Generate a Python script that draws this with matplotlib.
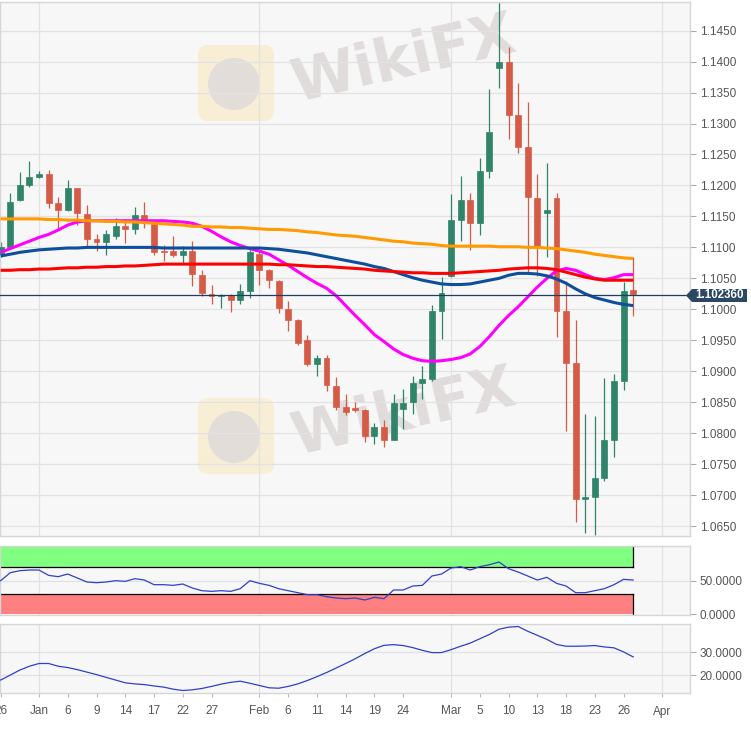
import matplotlib
matplotlib.use('Agg')
import matplotlib.pyplot as plt
from matplotlib.patches import Rectangle, Polygon, FancyBboxPatch, Ellipse

plt.rcParams['font.family'] = ['Liberation Sans', 'DejaVu Sans']

# trading days from Dec 26 2019 to Mar 27 2020 (index 0..66), daily OHLC
opens = [1.1090, 1.1101, 1.1177, 1.1201, 1.1214, 1.1219, 1.1171, 1.1161, 1.1196, 1.1154,
         1.1113, 1.1109, 1.1118, 1.1135, 1.1129, 1.1153, 1.1137, 1.1094, 1.1094, 1.1087,
         1.1094, 1.1056, 1.1024, 1.1021, 1.1023, 1.1015, 1.1029, 1.1090, 1.1063, 1.1046,
         1.1001, 1.0982, 1.0950, 1.0912, 1.0921, 1.0876, 1.0843, 1.0840, 1.0837, 1.0796,
         1.0810, 1.0789, 1.0839, 1.0850, 1.0881, 1.0888, 1.0997, 1.1054, 1.1144, 1.1176,
         1.1140, 1.1224, 1.1389, 1.1399, 1.1314, 1.1262, 1.1180, 1.1156, 1.1180, 1.0998,
         1.0913, 1.0693, 1.0697, 1.0728, 1.0789, 1.0884, 1.1031]
highs = [1.1108, 1.1188, 1.1221, 1.1240, 1.1223, 1.1225, 1.1182, 1.1208, 1.1196, 1.1168,
         1.1121, 1.1128, 1.1147, 1.1146, 1.1165, 1.1173, 1.1140, 1.1104, 1.1118, 1.1102,
         1.1110, 1.1063, 1.1040, 1.1024, 1.1024, 1.1041, 1.1096, 1.1096, 1.1065, 1.1048,
         1.1013, 1.0984, 1.0958, 1.0927, 1.0927, 1.0891, 1.0863, 1.0851, 1.0839, 1.0817,
         1.0821, 1.0864, 1.0872, 1.0892, 1.0909, 1.1007, 1.1052, 1.1186, 1.1215, 1.1187,
         1.1245, 1.1356, 1.1496, 1.1424, 1.1366, 1.1335, 1.1219, 1.1236, 1.1187, 1.1045,
         1.0983, 1.0831, 1.0828, 1.0889, 1.0895, 1.1044, 1.1084]
lows = [1.1085, 1.1098, 1.1175, 1.1198, 1.1212, 1.1163, 1.1128, 1.1159, 1.1136, 1.1101,
        1.1094, 1.1087, 1.1114, 1.1107, 1.1121, 1.1132, 1.1087, 1.1078, 1.1084, 1.1073,
        1.1038, 1.1022, 1.1009, 1.1002, 1.0995, 1.1008, 1.1019, 1.1039, 1.1034, 1.0994,
        1.0965, 1.0943, 1.0908, 1.0893, 1.0868, 1.0837, 1.0829, 1.0834, 1.0786, 1.0783,
        1.0778, 1.0789, 1.0806, 1.0831, 1.0856, 1.0885, 1.0952, 1.1052, 1.1110, 1.1095,
        1.1120, 1.1212, 1.1358, 1.1275, 1.1252, 1.1061, 1.1053, 1.1085, 1.0956, 1.0803,
        1.0656, 1.0639, 1.0636, 1.0722, 1.0761, 1.0870, 1.0990]
closes = [1.1101, 1.1174, 1.1201, 1.1214, 1.1219, 1.1172, 1.1161, 1.1196, 1.1156, 1.1114,
          1.1109, 1.1121, 1.1134, 1.1129, 1.1153, 1.1143, 1.1092, 1.1092, 1.1087, 1.1094,
          1.1057, 1.1026, 1.1022, 1.1023, 1.1015, 1.1029, 1.1092, 1.1063, 1.1047, 1.1002,
          1.0982, 1.0946, 1.0912, 1.0921, 1.0878, 1.0843, 1.0834, 1.0838, 1.0796, 1.0810,
          1.0789, 1.0848, 1.0849, 1.0881, 1.0888, 1.0997, 1.1027, 1.1144, 1.1176, 1.1140,
          1.1223, 1.1286, 1.1399, 1.1314, 1.1262, 1.1181, 1.1100, 1.1161, 1.0997, 1.0914,
          1.0693, 1.0697, 1.0728, 1.0789, 1.0884, 1.1029, 1.1024]

# moving averages
ma_orange = [1.1146, 1.1146, 1.1146, 1.1146, 1.1146, 1.1145, 1.1145, 1.1144, 1.1144, 1.1143,
             1.1143, 1.1142, 1.1142, 1.1141, 1.1141, 1.1140, 1.1139, 1.1138, 1.1137, 1.1136,
             1.1134, 1.1134, 1.1133, 1.1133, 1.1132, 1.1132, 1.1131, 1.1130, 1.1129, 1.1129,
             1.1128, 1.1127, 1.1125, 1.1124, 1.1122, 1.1120, 1.1119, 1.1118, 1.1116, 1.1114,
             1.1112, 1.1110, 1.1109, 1.1107, 1.1106, 1.1105, 1.1103, 1.1102, 1.1102, 1.1102,
             1.1102, 1.1102, 1.1101, 1.1101, 1.1101, 1.1100, 1.1100, 1.1099, 1.1098, 1.1096,
             1.1094, 1.1092, 1.1089, 1.1087, 1.1085, 1.1083, 1.1082]
ma_blue = [1.1086, 1.1089, 1.1092, 1.1094, 1.1096, 1.1097, 1.1098, 1.1099, 1.1099, 1.1100,
           1.1100, 1.1100, 1.1100, 1.1100, 1.1100, 1.1100, 1.1100, 1.1099, 1.1099, 1.1099,
           1.1099, 1.1099, 1.1099, 1.1099, 1.1099, 1.1099, 1.1099, 1.1099, 1.1098, 1.1097,
           1.1095, 1.1093, 1.1091, 1.1088, 1.1085, 1.1082, 1.1079, 1.1076, 1.1073, 1.1069,
           1.1066, 1.1061, 1.1056, 1.1051, 1.1047, 1.1044, 1.1041, 1.1040, 1.1040, 1.1041,
           1.1044, 1.1047, 1.1050, 1.1055, 1.1058, 1.1058, 1.1057, 1.1054, 1.1049, 1.1042,
           1.1033, 1.1025, 1.1019, 1.1015, 1.1011, 1.1008, 1.1006]
ma_red = [1.1063, 1.1063, 1.1064, 1.1064, 1.1065, 1.1065, 1.1066, 1.1067, 1.1067, 1.1068,
          1.1068, 1.1069, 1.1069, 1.1070, 1.1070, 1.1071, 1.1072, 1.1073, 1.1073, 1.1073,
          1.1073, 1.1073, 1.1073, 1.1073, 1.1073, 1.1073, 1.1073, 1.1073, 1.1073, 1.1072,
          1.1072, 1.1071, 1.1070, 1.1069, 1.1069, 1.1068, 1.1067, 1.1066, 1.1065, 1.1063,
          1.1062, 1.1061, 1.1060, 1.1059, 1.1059, 1.1058, 1.1058, 1.1058, 1.1059, 1.1060,
          1.1061, 1.1062, 1.1063, 1.1065, 1.1066, 1.1067, 1.1067, 1.1066, 1.1064, 1.1060,
          1.1056, 1.1052, 1.1049, 1.1047, 1.1047, 1.1047, 1.1047]
ma_magenta = [1.1092, 1.1098, 1.1104, 1.1110, 1.1116, 1.1121, 1.1128, 1.1136, 1.1141, 1.1143,
              1.1143, 1.1143, 1.1143, 1.1143, 1.1143, 1.1143, 1.1143, 1.1143, 1.1142, 1.1141,
              1.1139, 1.1134, 1.1126, 1.1117, 1.1109, 1.1103, 1.1098, 1.1094, 1.1089, 1.1080,
              1.1071, 1.1061, 1.1051, 1.1042, 1.1034, 1.1022, 1.1006, 1.0990, 1.0975, 1.0959,
              1.0948, 1.0936, 1.0927, 1.0921, 1.0917, 1.0916, 1.0917, 1.0919, 1.0922, 1.0928,
              1.0940, 1.0956, 1.0974, 1.0990, 1.1004, 1.1020, 1.1036, 1.1050, 1.1062, 1.1066,
              1.1063, 1.1056, 1.1050, 1.1048, 1.1051, 1.1056, 1.1056]

rsi = [50, 62, 65, 66, 66, 58, 56, 60, 54, 48, 47, 48, 50, 49, 53, 51, 44, 44, 43, 45,
       39, 35, 34, 35, 34, 38, 50, 46, 43, 38, 35, 32, 29, 29, 26, 24, 23, 24, 21, 25,
       23, 36, 36, 42, 43, 57, 60, 69, 71, 66, 71, 74, 78, 68, 63, 57, 51, 55, 46, 42,
       32, 32, 35, 38, 44, 52, 51]
adx = [17.8, 20.0, 22.2, 23.9, 25.1, 25.1, 23.9, 23.3, 22.4, 21.3, 20.2, 19.0, 17.8, 16.6,
       16.1, 15.8, 15.2, 14.7, 13.8, 13.2, 13.5, 14.1, 15.0, 16.0, 16.8, 17.3, 16.4, 15.4,
       14.4, 14.2, 15.0, 16.1, 17.6, 19.3, 21.1, 23.1, 25.1, 27.2, 29.5, 31.6, 33.1, 33.4,
       33.0, 32.1, 30.9, 29.9, 29.9, 31.2, 32.7, 34.1, 36.0, 37.9, 40.2, 41.1, 41.4, 39.3,
       37.5, 35.7, 33.5, 32.7, 32.7, 32.8, 33.0, 32.4, 32.0, 30.2, 28.0]

last_price = 1.102360
date_ticks = [0, 4, 7, 10, 13, 16, 19, 22, 27, 30, 33, 36, 39, 42, 47, 50, 53, 56, 59, 62, 65, 69]
date_labels = ['26', 'Jan', '6', '9', '14', '17', '22', '27', 'Feb', '6', '11', '14', '19',
               '24', 'Mar', '5', '10', '13', '18', '23', '26', 'Apr']
month_ticks = [4, 27, 47, 69]
price_ticks = [1.0650 + 0.005 * k for k in range(17)]

W, H = 751, 729
GREEN = '#2f8469'
RED = '#d65b47'
BG = '#f7f7f7'
GRID = '#e2e2e2'
SPINE = '#d6d6d6'
TXT = '#555555'

fig = plt.figure(figsize=(W / 100, H / 100), dpi=100)


def fax(top, bottom):
    return fig.add_axes([0, 1 - bottom / H, 690 / W, (bottom - top) / H])


def fx(px):
    return px / W


def fy(py):
    return 1 - py / H


ax = fax(1.5, 536)
ax_rsi = fax(545.7, 615)
ax_adx = fax(624, 693)

xmin, xmax = -0.07, 71.93
for a in (ax, ax_rsi, ax_adx):
    a.set_facecolor(BG)
    a.set_xlim(xmin, xmax)
    for s in a.spines.values():
        s.set_color(SPINE)
        s.set_linewidth(1)
    a.yaxis.tick_right()
    a.tick_params(axis='y', direction='out', length=4, width=0.8, color='#aaaaaa',
                  labelsize=8.5, labelcolor=TXT, pad=3)
    for m in month_ticks:
        a.axvline(m, color=GRID, lw=0.9, zorder=0.6)
    a.set_xticks(date_ticks)
    a.set_xticklabels([])
    a.tick_params(axis='x', length=0)

# watermarks (behind the candles)
for dy in (0, 353):
    ax.add_patch(FancyBboxPatch((fx(198), fy(121 + dy)), fx(76), 76 / H,
                                boxstyle='round,pad=0,rounding_size=0.014',
                                transform=fig.transFigure, facecolor='#f8eed6',
                                edgecolor='none', zorder=0.2))
    ax.add_patch(Ellipse((fx(234), fy(84 + dy)), fx(52), 52 / H,
                         transform=fig.transFigure, facecolor='#e2ddd8',
                         edgecolor='none', zorder=0.3))
    ax.text(fx(404), fy(60 + dy), 'WikiFX', fontsize=42, fontweight='bold',
            color='#e0dcdb', rotation=13, ha='center', va='center',
            family='DejaVu Sans', transform=fig.transFigure, zorder=0.4)

# main price panel
ax.set_ylim(1.0634, 1.1497)
ax.set_yticks(price_ticks)
ax.set_yticklabels(['%.4f' % p for p in price_ticks])
for p in price_ticks:
    ax.axhline(p, color=GRID, lw=0.9, zorder=0.6)

bw = 0.62
for i in range(len(opens)):
    o, h, l, c = opens[i], highs[i], lows[i], closes[i]
    col = GREEN if c >= o else RED
    ax.vlines(i, l, h, color=col, lw=0.9, zorder=2)
    lo, hi = min(o, c), max(o, c)
    ax.add_patch(Rectangle((i - bw / 2, lo), bw, max(hi - lo, 0.00012),
                           facecolor=col, edgecolor=col, lw=0.5, zorder=3))

xs = list(range(len(opens)))
ax.plot(xs, ma_magenta, color='#ff00ff', lw=2.2, zorder=4, solid_capstyle='butt')
ax.plot(xs, ma_orange, color='#ff9a00', lw=2.2, zorder=4, solid_capstyle='butt')
ax.plot(xs, ma_blue, color='#0d4f9c', lw=2.2, zorder=4, solid_capstyle='butt')
ax.plot(xs, ma_red, color='#ff0000', lw=2.2, zorder=4, solid_capstyle='butt')
ax.axhline(last_price, color='#1f3d63', lw=0.9, zorder=5)

# RSI panel
ax_rsi.set_ylim(-1.5, 102.5)
ax_rsi.set_yticks([0, 50])
ax_rsi.set_yticklabels(['0.0000', '50.0000'])
ax_rsi.axhline(50, color=GRID, lw=0.9, zorder=0)
last = len(rsi) - 1
ax_rsi.fill_between([xmin, last], 70, 100, color='#80ff80', lw=0, zorder=1)
ax_rsi.fill_between([xmin, last], 0, 30, color='#ff8080', lw=0, zorder=1)
ax_rsi.plot([xmin, last], [70, 70], color='black', lw=0.9, zorder=2)
ax_rsi.plot([last, last], [70, 100], color='black', lw=0.9, zorder=2)
ax_rsi.plot([xmin, last], [30, 30], color='black', lw=0.9, zorder=2)
ax_rsi.plot([last, last], [0, 30], color='black', lw=0.9, zorder=2)
ax_rsi.plot(xs, rsi, color='#3040c8', lw=0.9, zorder=3)

# ADX panel
ax_adx.set_ylim(12.1, 42.5)
ax_adx.set_yticks([20, 30])
ax_adx.set_yticklabels(['20.0000', '30.0000'])
for v in (20, 30):
    ax_adx.axhline(v, color=GRID, lw=0.9, zorder=0)
ax_adx.plot(xs, adx, color='#3040c8', lw=0.9, zorder=3)
ax_adx.set_xticklabels(date_labels)
ax_adx.tick_params(axis='x', length=3, color='#bbbbbb', labelsize=8.5,
                   labelcolor=TXT, pad=6)

# last price tag
tag = Polygon([(fx(686), fy(295.5)), (fx(692), fy(289)), (fx(747), fy(289)),
               (fx(747), fy(302)), (fx(692), fy(302))], closed=True,
              transform=fig.transFigure, facecolor='#2b4763', edgecolor='none', zorder=10)
fig.patches.append(tag)
fig.text(fx(720), fy(295.5), '%.6f' % last_price, color='white', fontsize=8.3,
         fontweight='bold', ha='center', va='center', zorder=11)

fig.savefig('out.png', dpi=100, facecolor='white')
